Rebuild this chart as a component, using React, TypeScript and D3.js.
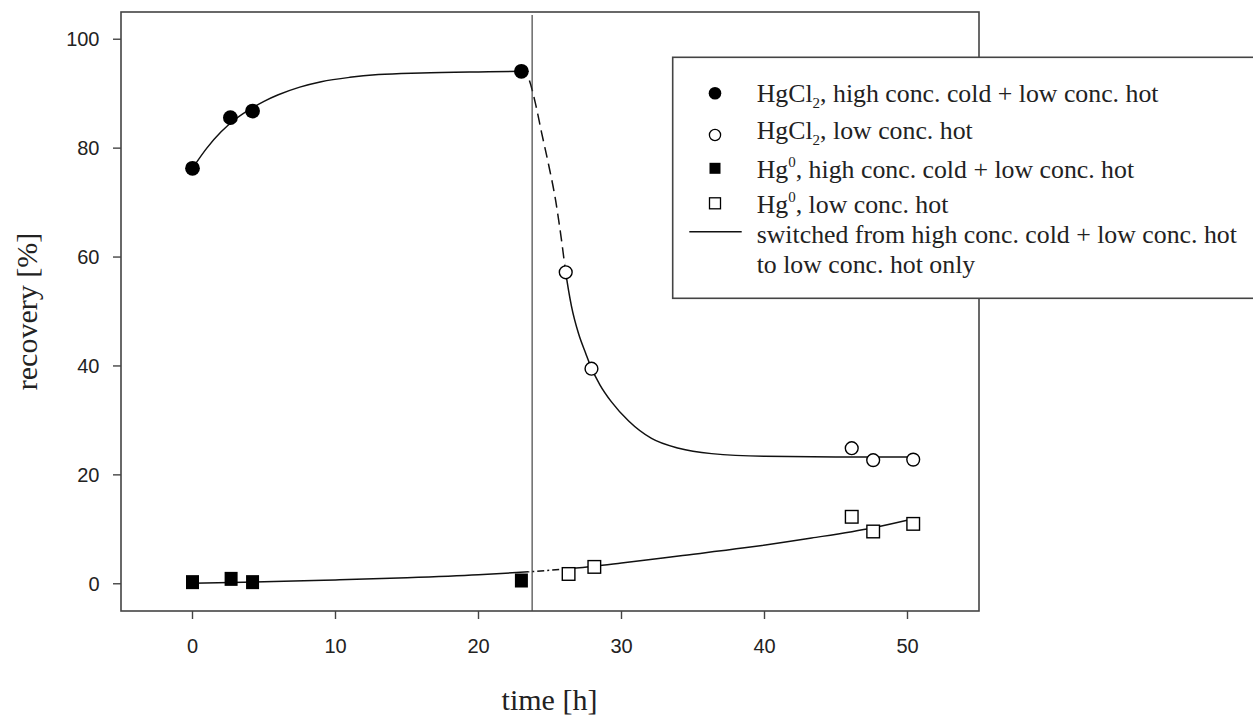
import * as d3 from 'd3'

// measured points
const hgcl2HighT = [0, 2.65, 4.2, 23]
const hgcl2HighV = [76.3, 85.6, 86.8, 94.1]
const hgcl2LowT = [26.1, 27.9, 46.1, 47.6, 50.4]
const hgcl2LowV = [57.2, 39.5, 24.9, 22.7, 22.8]
const hg0HighT = [0, 2.7, 4.2, 23]
const hg0HighV = [0.3, 0.9, 0.3, 0.6]
const hg0LowT = [26.3, 28.1, 46.1, 47.6, 50.4]
const hg0LowV = [1.8, 3.1, 12.3, 9.6, 11.0]

// fitted curves (one continuous curve per species)
const fitHgcl2 = [
  [0, 76.3], [1, 80], [2, 83], [3, 85.3], [4, 87.1], [5, 88.6], [6, 89.8], [7.5, 91.2], [9, 92.2], [11, 93],
  [13, 93.5], [16, 93.8], [20, 94], [23.1, 94.1], [23.5, 92.8], [24, 88], [24.4, 83], [24.9, 77], [25.4, 70.3],
  [25.8, 63.2], [26.1, 57.2], [26.5, 51], [27, 45.9], [27.5, 42.3], [27.9, 39.6], [28.5, 36.5], [29.3, 33.4],
  [30.5, 29.9], [32.1, 26.7], [34, 24.9], [36.3, 23.9], [40, 23.4], [45, 23.3], [50.4, 23.3],
]
const fitHg0 = [
  [0, 0.1], [5, 0.35], [10, 0.7], [15, 1.1], [20, 1.65], [23.5, 2.2], [26.3, 2.75], [28.1, 3.2], [30, 3.8],
  [34, 5.1], [38.6, 6.6], [43.3, 8.4], [47.6, 10.3], [50.5, 12],
]
// where each curve is drawn broken (transition after the switch)
const hgcl2Gap = [23.1, 26.1]
const hg0Gap = [23.5, 26.3]

const switchTime = 23.75
const xTicks = [0, 10, 20, 30, 40, 50]
const yTicks = [0, 20, 40, 60, 80, 100]

const legendLabels = [
  ['HgCl', '2', ', high conc. cold + low conc. hot'],
  ['HgCl', '2', ', low conc. hot'],
  ['Hg', '0', ', high conc. cold + low conc. hot'],
  ['Hg', '0', ', low conc. hot'],
  ['switched from high conc. cold + low conc. hot', '', ''],
  ['to low conc. hot only', '', ''],
]

const W = 1253
const H = 718
const left = 121, right = 979, top = 12, bottom = 611
const serif = '"Liberation Serif", "Times New Roman", serif'
const sans = '"Liberation Sans", Arial, sans-serif'

export default function App() {
  const x = d3.scaleLinear().domain([-5, 55]).range([left, right])
  const y = d3.scaleLinear().domain([-5, 105]).range([bottom, top])
  const line = d3.line<number[]>().x((d) => x(d[0])).y((d) => y(d[1])).curve(d3.curveMonotoneX)

  const zip = (ts: number[], vs: number[]) => ts.map((t, i) => ({ t, v: vs[i] }))
  const ink = '#111'

  const legendRows = [101.7, 139.3, 178, 213, 243.3, 272.7]
  const markerX = 715

  const clips = [
    { id: 'c1in', r: hgcl2Gap },
    { id: 'c2in', r: hg0Gap },
  ]

  return (
    <svg width={W} height={H} style={{ position: 'absolute', left: 0, top: 0, background: '#fff' }}>
      <defs>
        {clips.map((c) => (
          <clipPath key={c.id} id={c.id}>
            <rect x={x(c.r[0])} y={0} width={x(c.r[1]) - x(c.r[0])} height={H} />
          </clipPath>
        ))}
        <clipPath id="c1out">
          <rect x={0} y={0} width={x(hgcl2Gap[0])} height={H} />
          <rect x={x(hgcl2Gap[1])} y={0} width={W} height={H} />
        </clipPath>
        <clipPath id="c2out">
          <rect x={0} y={0} width={x(hg0Gap[0])} height={H} />
          <rect x={x(hg0Gap[1])} y={0} width={W} height={H} />
        </clipPath>
      </defs>
      <rect x={0} y={0} width={W} height={H} fill="#fff" />

      {/* fit curves */}
      <path d={line(fitHgcl2) || ''} fill="none" stroke={ink} strokeWidth={1.5} clipPath="url(#c1out)" />
      <path d={line(fitHgcl2) || ''} fill="none" stroke={ink} strokeWidth={1.5} strokeDasharray="11 6" clipPath="url(#c1in)" />
      <path d={line(fitHg0) || ''} fill="none" stroke={ink} strokeWidth={1.5} clipPath="url(#c2out)" />
      <path d={line(fitHg0) || ''} fill="none" stroke={ink} strokeWidth={1.5} strokeDasharray="7 3 2 3" clipPath="url(#c2in)" />

      {/* switch marker */}
      <line x1={x(switchTime)} x2={x(switchTime)} y1={top + 3} y2={bottom} stroke="#333" strokeWidth={1.1} />

      {/* points */}
      {zip(hgcl2HighT, hgcl2HighV).map((d, i) => (
        <circle key={'a' + i} cx={x(d.t)} cy={y(d.v)} r={7.4} fill="#000" />
      ))}
      {zip(hgcl2LowT, hgcl2LowV).map((d, i) => (
        <circle key={'b' + i} cx={x(d.t)} cy={y(d.v)} r={6.4} fill="#fff" stroke="#000" strokeWidth={1.4} />
      ))}
      {zip(hg0HighT, hg0HighV).map((d, i) => (
        <rect key={'c' + i} x={x(d.t) - 6.5} y={y(d.v) - 7} width={13} height={14} fill="#000" />
      ))}
      {zip(hg0LowT, hg0LowV).map((d, i) => (
        <rect key={'d' + i} x={x(d.t) - 6.3} y={y(d.v) - 6.3} width={12.6} height={12.6} fill="#fff" stroke="#000" strokeWidth={1.4} />
      ))}

      {/* frame */}
      <rect x={left} y={top} width={right - left} height={bottom - top} fill="none" stroke="#444" strokeWidth={1.6} />

      {/* axes */}
      {xTicks.map((t) => (
        <g key={'xt' + t}>
          <line x1={x(t)} x2={x(t)} y1={bottom} y2={bottom + 8} stroke="#444" strokeWidth={1.4} />
          <text x={x(t)} y={bottom + 41.5} textAnchor="middle" fontFamily={sans} fontSize={20} fill="#222">{t}</text>
        </g>
      ))}
      {yTicks.map((v) => (
        <g key={'yt' + v}>
          <line x1={left - 8} x2={left} y1={y(v)} y2={y(v)} stroke="#444" strokeWidth={1.4} />
          <text x={99.5} y={y(v) + 7} textAnchor="end" fontFamily={sans} fontSize={20} fill="#222">{v}</text>
        </g>
      ))}

      <text x={549.5} y={710} textAnchor="middle" fontFamily={serif} fontSize={30} fill="#222">time [h]</text>
      <text transform="translate(37,311.5) rotate(-90)" textAnchor="middle" fontFamily={serif} fontSize={30} fill="#222">recovery [%]</text>

      {/* legend */}
      <rect x={672.7} y={57.3} width={620} height={241} fill="#fff" stroke="#444" strokeWidth={1.6} />
      <circle cx={markerX} cy={93.3} r={6.3} fill="#000" />
      <circle cx={markerX} cy={135} r={5.6} fill="#fff" stroke="#000" strokeWidth={1.3} />
      <rect x={markerX - 5.5} y={162.8} width={11} height={11} fill="#000" />
      <rect x={markerX - 5.5} y={197.8} width={11} height={11} fill="#fff" stroke="#000" strokeWidth={1.3} />
      <line x1={689.3} x2={741.7} y1={231.7} y2={231.7} stroke={ink} strokeWidth={1.5} />
      {legendLabels.map((l, i) => (
        <text key={'lg' + i} x={756.7} y={legendRows[i]} fontFamily={serif} fontSize={25.8} fill="#222">
          {l[0]}
          {l[1] && (
            <tspan fontSize={15} dy={l[1] === '2' ? 6 : -11}>{l[1]}</tspan>
          )}
          {l[1] ? <tspan dy={l[1] === '2' ? -6 : 11}>{l[2]}</tspan> : null}
        </text>
      ))}
    </svg>
  )
}
